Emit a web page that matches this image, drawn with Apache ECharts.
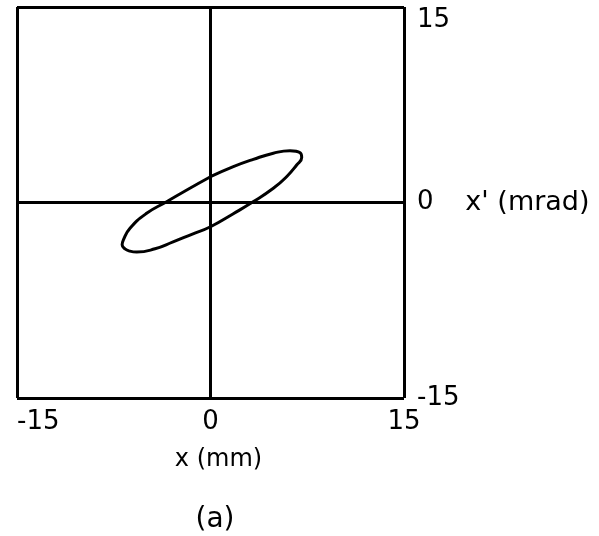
<!DOCTYPE html>
<html>
<head>
<meta charset="utf-8">
<script src="https://cdn.jsdelivr.net/npm/echarts@6/dist/echarts.min.js"></script>
<style>
  html, body { margin: 0; padding: 0; background: #fff; }
  #chart { width: 599px; height: 536px; }
</style>
</head>
<body>
<div id="chart"></div>
<script>
// Phase-space ellipse: position x (mm) against angle x' (mrad), traced as a closed loop
const xValues  = [0.0, -1.7, -3.4, -4.95, -6.24, -6.76, -6.85, -6.63, -6.25, -5.72, -4.3, -2.9, -1.45, 0.0, 1.77, 3.3, 4.87, 5.9, 6.68, 7.07, 6.95, 6.16, 4.87, 3.32, 1.77, 0.0];
const xpValues = [1.98, 1.04, 0.06, -0.83, -1.98, -2.88, -3.25, -3.56, -3.73, -3.8, -3.55, -3.02, -2.44, -1.86, -0.86, 0.05, 1.09, 1.98, 2.88, 3.45, 3.82, 3.98, 3.78, 3.31, 2.75, 1.98];
const axisMin = -15;
const axisMax = 15;
const axisStep = 15;

const points = xValues.map((x, i) => [x, xpValues[i]]);
const font = 'DejaVu Sans';
const ink = '#000';

const chart = echarts.init(document.getElementById('chart'), null, { renderer: 'canvas' });
chart.setOption({
  animation: false,
  backgroundColor: '#fff',
  title: {
    text: '(a)',
    left: 210,
    top: 501,
    textAlign: 'center',
    textStyle: { fontFamily: font, fontSize: 28, fontWeight: 'normal', color: ink }
  },
  grid: { left: 17, right: 195, top: 7, bottom: 138 },
  xAxis: {
    type: 'value',
    min: axisMin, max: axisMax, interval: axisStep,
    name: 'x (mm)',
    nameLocation: 'middle',
    nameGap: 50,
    nameTextStyle: { fontFamily: font, fontSize: 24, color: ink, padding: [0, 0, 0, 16] },
    axisLine: { show: false },
    axisTick: { show: false },
    axisLabel: {
      margin: 11,
      fontFamily: font, fontSize: 26, color: ink,
      alignMinLabel: 'left'
    },
    splitLine: { show: true, lineStyle: { color: ink, width: 3 } }
  },
  yAxis: {
    type: 'value',
    position: 'right',
    min: axisMin, max: axisMax, interval: axisStep,
    name: "x' (mrad)",
    nameLocation: 'middle',
    nameRotate: 0,
    nameGap: 54,
    nameTextStyle: { fontFamily: font, fontSize: 27, color: ink, align: 'left', verticalAlign: 'middle' },
    axisLine: { show: false },
    axisTick: { show: false },
    axisLabel: {
      margin: 13,
      fontFamily: font, fontSize: 26, color: ink,
      verticalAlignMaxLabel: 'top'
    },
    splitLine: { show: true, lineStyle: { color: ink, width: 3 } }
  },
  series: [{
    type: 'line',
    data: points,
    smooth: 0.5,
    showSymbol: false,
    lineStyle: { color: ink, width: 3 }
  }]
});
</script>
</body>
</html>
